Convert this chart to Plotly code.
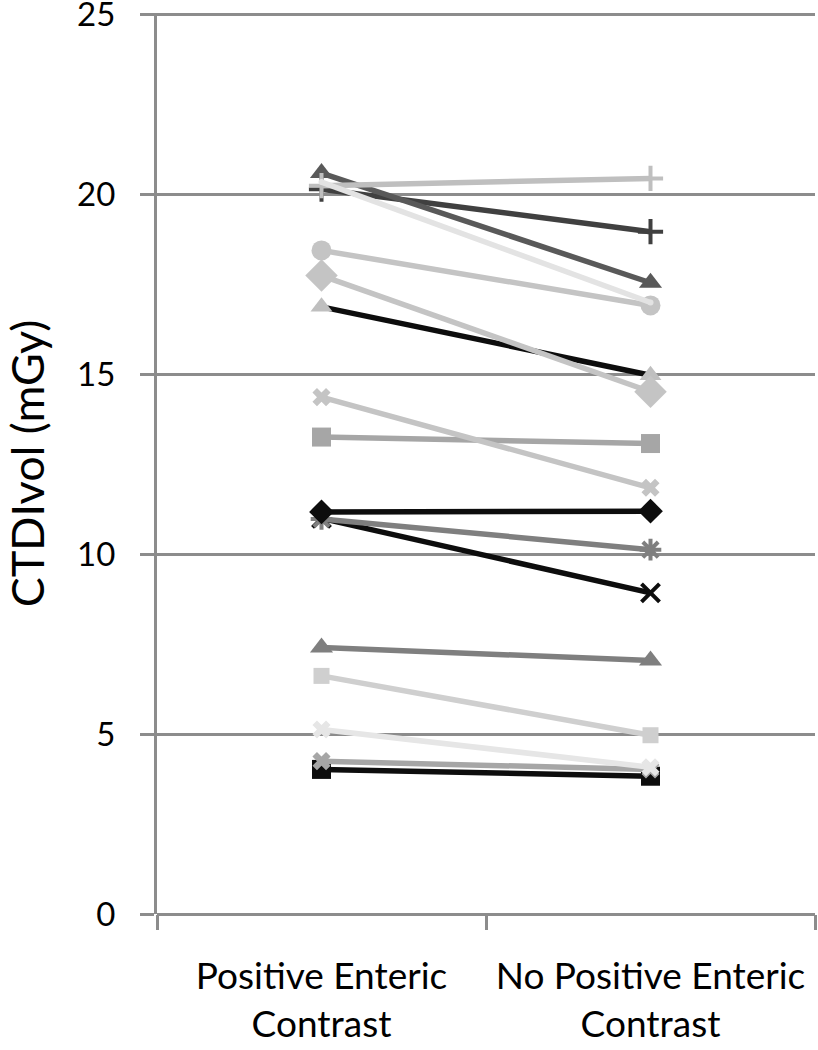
import plotly.graph_objects as go

categories = ["Positive Enteric<br>Contrast", "No Positive Enteric<br>Contrast"]

# CTDIvol values (mGy) per patient: with / without positive enteric contrast
with_contrast = [4.02, 4.25, 5.13, 6.62, 7.41, 11.0, 10.98, 11.18, 13.26, 14.37,
                 16.88, 17.75, 18.45, 20.15, 20.6, 20.25, 20.35]
without_contrast = [3.83, 4.02, 4.08, 4.97, 7.05, 8.93, 10.13, 11.2, 13.08, 11.85,
                    14.98, 14.52, 16.92, 18.97, 17.55, 20.45, 17.0]

line_colors = ["#0d0d0d", "#a6a6a6", "#e6e6e6", "#cfcfcf", "#7f7f7f", "#0d0d0d", "#7f7f7f",
               "#0d0d0d", "#a6a6a6", "#c4c4c4", "#0d0d0d", "#c4c4c4", "#c4c4c4",
               "#404040", "#595959", "#bfbfbf", "#e3e3e3"]
marker_colors = ["#0d0d0d", "#a6a6a6", "#e6e6e6", "#cfcfcf", "#7f7f7f", "#0d0d0d", "#7f7f7f",
                 "#0d0d0d", "#a6a6a6", "#c4c4c4", "#bfbfbf", "#c4c4c4", "#c4c4c4",
                 "#404040", "#595959", "#bfbfbf", "#e3e3e3"]
symbols = ["square", "x", "x", "square", "triangle-up", "x-thin", "asterisk",
           "diamond", "square", "x", "triangle-up", "diamond", "circle",
           "cross-thin", "triangle-up", "cross-thin", "circle"]
sizes = [19, 16, 16, 16, 20, 18, 18, 19, 19, 16, 19, 25, 20, 18, 20, 18, 6]

fig = go.Figure()
for i in range(len(with_contrast)):
    thin = symbols[i] in ("x-thin", "cross-thin", "asterisk")
    fig.add_trace(go.Scatter(
        x=[0, 1], y=[with_contrast[i], without_contrast[i]],
        mode="lines+markers",
        line=dict(color=line_colors[i], width=5.5),
        marker=dict(symbol=symbols[i], size=sizes[i], color=marker_colors[i],
                    line=dict(color=marker_colors[i], width=4 if thin else 0)),
        showlegend=False, hoverinfo="y"
    ))

grid_col = "#8c8c8c"
fig.update_layout(
    template="none",
    width=818, height=1050,
    margin=dict(l=157, r=3, t=13, b=136),
    paper_bgcolor="white", plot_bgcolor="white",
    font=dict(family="Lato, Open Sans, sans-serif", color="black"),
    xaxis=dict(
        range=[-0.5, 1.5], tickvals=[0, 1], ticktext=categories,
        ticks="", showgrid=False, zeroline=False, automargin=False,
        showline=False, tickfont=dict(size=37), ticklabelstandoff=37,
        minor=dict(tickvals=[-0.5, 0.5, 1.5], ticks="outside", ticklen=15,
                   tickwidth=3, tickcolor=grid_col, showgrid=False),
    ),
    yaxis=dict(
        range=[0, 25.05], tickvals=[0, 5, 10, 15, 20, 25], automargin=False,
        showgrid=True, gridcolor=grid_col, gridwidth=3,
        zeroline=True, zerolinecolor=grid_col, zerolinewidth=3,
        showline=True, linecolor=grid_col, linewidth=3,
        ticks="outside", ticklen=14, tickwidth=3, tickcolor=grid_col,
        tickfont=dict(size=33), ticklabelstandoff=18, ticklabeloverflow="allow",
        title=dict(text="CTDIvol (mGy)", font=dict(size=45), standoff=44),
    ),
)

# drop the default 8px body margin so the figure fills the window exactly
fig.write_html("out.html", config={"displayModeBar": False},
               post_script="document.body.style.margin='0';")
